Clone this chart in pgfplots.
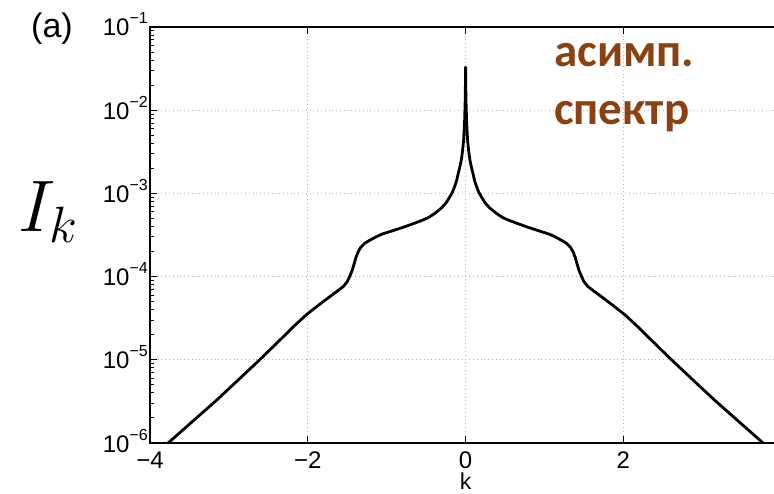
\documentclass[border=0pt]{standalone}
\usepackage{fix-cm}
\usepackage{pgfplots}
\pgfplotsset{compat=1.18}
\usepackage{fontspec}
\setmainfont{Liberation Sans}
\newfontfamily\notefont{Carlito}
\definecolor{notebrown}{RGB}{139,66,18}
% decade label: 10 with a raised exponent
\newcommand{\dec}[1]{10\raisebox{12pt}{\fontsize{16}{16}\selectfont #1}}

\begin{document}
\begin{tikzpicture}
\path[use as bounding box] (0,0) rectangle (774pt,494pt);
\begin{axis}[
  at={(150pt,51pt)}, anchor=south west,
  scale only axis, width=631.2pt, height=416pt,
  xmin=-4, xmax=4,
  ymode=log, ymin=1e-6, ymax=1e-1,
  xtick={-4,-2,0,2,4},
  xticklabels={−4,−2,0,2,{}},
  ytick={1e-6,1e-5,1e-4,1e-3,1e-2,1e-1},
  yticklabels={\dec{−6},\dec{−5},\dec{−4},\dec{−3},\dec{−2},\dec{−1}},
  minor ytick={2e-6,3e-6,4e-6,5e-6,6e-6,7e-6,8e-6,9e-6,
               2e-5,3e-5,4e-5,5e-5,6e-5,7e-5,8e-5,9e-5,
               2e-4,3e-4,4e-4,5e-4,6e-4,7e-4,8e-4,9e-4,
               2e-3,3e-3,4e-3,5e-3,6e-3,7e-3,8e-3,9e-3,
               2e-2,3e-2,4e-2,5e-2,6e-2,7e-2,8e-2,9e-2},
  ytick pos=left,
  tick align=inside,
  major tick length=7pt, minor tick length=4pt,
  tick style={black, line width=1pt},
  axis line style={black, line width=1.2pt},
  grid=major,
  major grid style={gray!60, line width=0.8pt, dash pattern=on 0.8pt off 3pt},
  tick label style={font=\fontsize{24}{27}\selectfont},
  xticklabel style={anchor=base, yshift=-25pt, inner sep=0pt},
  yticklabel style={anchor=base east, inner sep=0pt, xshift=-2pt, yshift=-9pt},
  xlabel={k},
  xlabel style={font=\fontsize{23}{26}\selectfont, at={(axis description cs:0.5,0)}, anchor=base, yshift=-46pt, inner sep=0pt},
]
\addplot[black, line width=2.8pt, line join=round] coordinates {
  (-3.95,7.1e-7) (-3.77,1.0e-6) (-3.46,1.82e-6) (-3.15,3.31e-6)
  (-2.88,5.75e-6) (-2.61,1.0e-5) (-2.35,1.74e-5) (-2.18,2.51e-5)
  (-2.02,3.47e-5) (-1.86,4.57e-5) (-1.72,5.75e-5) (-1.62,6.76e-5)
  (-1.55,7.6e-5) (-1.50,8.7e-5) (-1.47,1.0e-4) (-1.44,1.17e-4)
  (-1.41,1.45e-4) (-1.39,1.70e-4) (-1.36,2.0e-4) (-1.33,2.24e-4)
  (-1.28,2.51e-4) (-1.21,2.75e-4) (-1.13,3.02e-4) (-1.06,3.24e-4)
  (-0.96,3.47e-4) (-0.80,3.89e-4) (-0.65,4.37e-4) (-0.54,4.79e-4)
  (-0.47,5.13e-4) (-0.39,5.75e-4) (-0.30,6.76e-4) (-0.245,7.76e-4)
  (-0.20,9.1e-4) (-0.17,1.02e-3) (-0.14,1.2e-3) (-0.115,1.41e-3)
  (-0.093,1.74e-3) (-0.075,2.04e-3) (-0.055,2.51e-3) (-0.04,3.16e-3)
  (-0.025,4.37e-3) (-0.012,7.59e-3) (-0.004,1.41e-2) (0,3.3e-2)
  (0.004,1.41e-2) (0.012,7.59e-3) (0.025,4.37e-3) (0.04,3.16e-3)
  (0.055,2.51e-3) (0.075,2.04e-3) (0.093,1.74e-3) (0.115,1.41e-3)
  (0.14,1.2e-3) (0.17,1.02e-3) (0.20,9.1e-4) (0.245,7.76e-4)
  (0.30,6.76e-4) (0.39,5.75e-4) (0.47,5.13e-4) (0.54,4.79e-4)
  (0.65,4.37e-4) (0.80,3.89e-4) (0.96,3.47e-4) (1.06,3.24e-4)
  (1.13,3.02e-4) (1.21,2.75e-4) (1.28,2.51e-4) (1.33,2.24e-4)
  (1.36,2.0e-4) (1.39,1.70e-4) (1.41,1.45e-4) (1.44,1.17e-4)
  (1.47,1.0e-4) (1.50,8.7e-5) (1.55,7.6e-5) (1.62,6.76e-5)
  (1.72,5.75e-5) (1.86,4.57e-5) (2.02,3.47e-5) (2.18,2.51e-5)
  (2.35,1.74e-5) (2.61,1.0e-5) (2.88,5.75e-6) (3.15,3.31e-6)
  (3.46,1.82e-6) (3.77,1.0e-6) (3.95,7.1e-7)
};
\end{axis}
\node[anchor=base, inner sep=0pt, font=\fontsize{34}{38}\selectfont] at (52pt,456pt) {(a)};
\node[anchor=base west, inner sep=0pt, font=\fontsize{73}{80}\selectfont] at (18pt,262pt) {$I_k$};
\node[anchor=base west, inner sep=0pt, text=notebrown, font=\notefont\bfseries\fontsize{47}{52}\selectfont] at (554pt,427pt) {асимп.};
\node[anchor=base west, inner sep=0pt, text=notebrown, font=\notefont\bfseries\fontsize{47}{52}\selectfont] at (554pt,369pt) {спектр};
\end{tikzpicture}
\end{document}
